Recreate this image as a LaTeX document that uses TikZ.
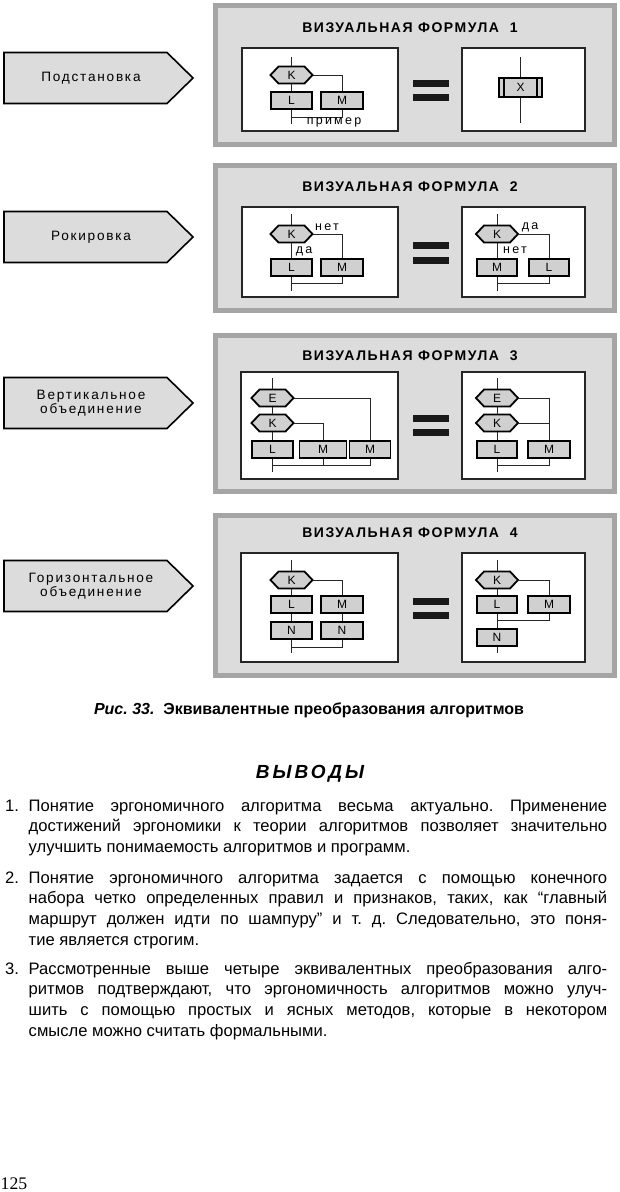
\documentclass[tikz,border=0pt]{standalone}
\usepackage{fontspec}
\setmainfont{Liberation Sans}
\newfontfamily\pgnumfont{Liberation Serif}
\newfontfamily\ttlfont{Liberation Sans}[LetterSpace=11]
\newfontfamily\lblfont{Liberation Sans}[LetterSpace=13]
\newfontfamily\tagfont{Liberation Sans}[LetterSpace=18]
\newfontfamily\headfont{Liberation Sans}[LetterSpace=16]
\definecolor{panelbg}{RGB}{220,220,220}
\definecolor{panelbd}{RGB}{165,165,165}
\definecolor{shapebg}{RGB}{208,208,208}
\definecolor{arrbg}{RGB}{220,220,220}
\tikzset{
  panel/.style={fill=panelbg, draw=panelbd, line width=5pt},
  wbox/.style={fill=white, draw=black!85, line width=1.1pt},
  eqbar/.style={fill=black!90, draw=none},
  hexbox/.style={fill=shapebg, draw=black, line width=1.8pt, line join=miter},
  hexlbl/.style={rectangle, draw=none, inner sep=0pt, minimum width=42pt, minimum height=17pt, font=\fontsize{12}{12}\selectfont},
  blk/.style={rectangle, fill=shapebg, draw=black, line width=1.8pt, inner sep=0pt, minimum height=17pt, font=\fontsize{12}{12}\selectfont},
  conn/.style={draw=black!85, line width=1pt},
  ttl/.style={inner sep=0pt, font=\ttlfont\bfseries\fontsize{14}{15}\selectfont},
  tag/.style={inner sep=0pt, font=\tagfont\fontsize{12.5}{13}\selectfont},
  abox/.style={fill=arrbg, draw=black, line width=1.6pt, line join=miter},
  albl/.style={inner sep=0pt, align=center, font=\lblfont\fontsize{13.6}{14}\selectfont},
  body/.style={inner sep=0pt, text width=578.5pt, align=justify, font=\fontsize{16.6}{20.9}\selectfont},
  num/.style={inner sep=0pt, font=\fontsize{16.6}{20.9}\selectfont},
}
\newcommand\hexa[4]{%
  \draw[hexbox] ([shift={(-21,0)}]#2,#3) -- ([shift={(-13,-8.5)}]#2,#3) -- ([shift={(13,-8.5)}]#2,#3) -- ([shift={(21,0)}]#2,#3) -- ([shift={(13,8.5)}]#2,#3) -- ([shift={(-13,8.5)}]#2,#3) -- cycle;
  \node[hexlbl] (#1) at (#2,#3) {#4};}
\newcommand\arrowbox[3]{%
  \draw[abox] (4,{#2-25.5}) -- (167,{#2-25.5}) -- (193,#2) -- (167,{#2+25.5}) -- (4,{#2+25.5}) -- cycle;
  \node[albl] (#1) at (91,#2) {#3};}
\begin{document}
\frenchspacing
\begin{tikzpicture}[x=1pt,y=-1pt]
\useasboundingbox (0,0) rectangle (620,1192);
\fill[white] (0,0) rectangle (620,1192);

% ---------- left arrow labels
\arrowbox{a1}{78}{Подстановка}
\arrowbox{a2}{237}{Рокировка}
\arrowbox{a3}{403}{Вертикальное\\объединение}
\arrowbox{a4}{586}{Горизонтальное\\объединение}

% ---------- panels
\draw[panel] (215.5,5) rectangle (614.5,144);
\draw[panel] (215.5,165) rectangle (614.5,310.5);
\draw[panel] (215.5,335) rectangle (614.5,491.5);
\draw[panel] (215.5,515.5) rectangle (614.5,675.5);

\node[ttl] (t1) at (410,28) {ВИЗУАЛЬНАЯ ФОРМУЛА\ \ 1};
\node[ttl] (t2) at (410,187) {ВИЗУАЛЬНАЯ ФОРМУЛА\ \ 2};
\node[ttl] (t3) at (410,356) {ВИЗУАЛЬНАЯ ФОРМУЛА\ \ 3};
\node[ttl] (t4) at (410,533) {ВИЗУАЛЬНАЯ ФОРМУЛА\ \ 4};

\draw[wbox] (242,48) rectangle (398,131);
\draw[wbox] (462,48) rectangle (585,131);
\draw[wbox] (242,207) rectangle (398,297);
\draw[wbox] (462,207) rectangle (585,297);
\draw[wbox] (241,372) rectangle (398,479);
\draw[wbox] (462,372) rectangle (585,479);
\draw[wbox] (241,553) rectangle (398,662);
\draw[wbox] (462,553) rectangle (585,662);

\fill[eqbar] (413,80) rectangle (449,87);
\fill[eqbar] (413,94) rectangle (449,101);
\fill[eqbar] (413,242) rectangle (449,249);
\fill[eqbar] (413,257) rectangle (449,264);
\fill[eqbar] (413,415) rectangle (449,422);
\fill[eqbar] (413,429) rectangle (449,436);
\fill[eqbar] (413,598) rectangle (449,605);
\fill[eqbar] (413,612) rectangle (449,619);

% ---------- formula 1
\coordinate (p1t) at (291.5,57);
\coordinate (p1j) at (291.5,117);
\coordinate (p1b) at (291.5,124);
\hexa{p1K}{291.5}{75}{K}
\node[blk, minimum width=41pt] (p1L) at (291.5,100.5) {L};
\node[blk, minimum width=42pt] (p1M) at (342,100.5) {M};
\draw[conn] (p1t) -- (p1K.north);
\draw[conn] (p1K.south) -- (p1L.north);
\draw[conn] (p1K.east) -| (p1M.north);
\draw[conn] (p1L.south) -- (p1b);
\draw[conn] (p1M.south) |- (p1j);
\node[tag, anchor=base] (p1ex) at (334,124) {пример};

\coordinate (p1rt) at (520.5,57);
\coordinate (p1rb) at (520.5,123);
\node[blk, minimum width=43pt, minimum height=19pt] (p1X) at (520.5,87.5) {X};
\draw[line width=1.6pt] ([xshift=6pt]p1X.north west) -- ([xshift=6pt]p1X.south west);
\draw[line width=1.6pt] ([xshift=-6pt]p1X.north east) -- ([xshift=-6pt]p1X.south east);
\draw[conn] (p1rt) -- (p1X.north);
\draw[conn] (p1X.south) -- (p1rb);

% ---------- formula 2
\coordinate (p2t) at (291.5,214);
\coordinate (p2j) at (291.5,283);
\coordinate (p2b) at (291.5,291);
\hexa{p2K}{291.5}{234}{K}
\node[blk, minimum width=41pt] (p2L) at (291.5,267.5) {L};
\node[blk, minimum width=42pt] (p2M) at (342,267.5) {M};
\draw[conn] (p2t) -- (p2K.north);
\draw[conn] (p2K.south) -- (p2L.north);
\draw[conn] (p2K.east) -| (p2M.north);
\draw[conn] (p2L.south) -- (p2b);
\draw[conn] (p2M.south) |- (p2j);
\node[tag, anchor=base] (p2no) at (327,230.5) {нет};
\node[tag, anchor=base] (p2yes) at (304,253) {да};

\coordinate (p2rt) at (497,214);
\coordinate (p2rj) at (497,283);
\coordinate (p2rb) at (497,291);
\hexa{p2rK}{497}{234}{K}
\node[blk, minimum width=40pt] (p2rM) at (497,267.5) {M};
\node[blk, minimum width=40pt] (p2rL) at (549,267.5) {L};
\draw[conn] (p2rt) -- (p2rK.north);
\draw[conn] (p2rK.south) -- (p2rM.north);
\draw[conn] (p2rK.east) -| (p2rL.north);
\draw[conn] (p2rM.south) -- (p2rb);
\draw[conn] (p2rL.south) |- (p2rj);
\node[tag, anchor=base] (p2ryes) at (530,229.5) {да};
\node[tag, anchor=base] (p2rno) at (515,253.5) {нет};

% ---------- formula 3
\coordinate (p3t) at (272.5,378);
\coordinate (p3j) at (272.5,465);
\coordinate (p3b) at (272.5,472);
\hexa{p3E}{272.5}{398}{E}
\hexa{p3K}{272.5}{423}{K}
\node[blk, minimum width=41pt] (p3L) at (272.5,449.5) {L};
\node[blk, minimum width=47pt] (p3M1) at (323,449.5) {M};
\node[blk, minimum width=41pt] (p3M2) at (370,449.5) {M};
\draw[conn] (p3t) -- (p3E.north);
\draw[conn] (p3E.south) -- (p3K.north);
\draw[conn] (p3K.south) -- (p3L.north);
\draw[conn] (p3L.south) -- (p3b);
\draw[conn] (p3E.east) -| (p3M2.north);
\draw[conn] (p3K.east) -| (p3M1.north);
\draw[conn] (p3M2.south) |- (p3j);
\draw[conn] (p3M1.south) -- (p3M1.south |- p3j);

\coordinate (p3rt) at (497,378);
\coordinate (p3rj) at (497,465);
\coordinate (p3rb) at (497,472);
\hexa{p3rE}{497}{398}{E}
\hexa{p3rK}{497}{423}{K}
\node[blk, minimum width=40pt] (p3rL) at (497,449.5) {L};
\node[blk, minimum width=42pt] (p3rM) at (549,449.5) {M};
\draw[conn] (p3rt) -- (p3rE.north);
\draw[conn] (p3rE.south) -- (p3rK.north);
\draw[conn] (p3rK.south) -- (p3rL.north);
\draw[conn] (p3rL.south) -- (p3rb);
\draw[conn] (p3rE.east) -| (p3rM.north);
\draw[conn] (p3rK.east) -- (p3rK.east -| p3rM.north);
\draw[conn] (p3rM.south) |- (p3rj);

% ---------- formula 4
\coordinate (p4t) at (291.5,560);
\coordinate (p4j) at (291.5,647);
\coordinate (p4b) at (291.5,653);
\hexa{p4K}{291.5}{580}{K}
\node[blk, minimum width=41pt] (p4L) at (291.5,604.5) {L};
\node[blk, minimum width=42pt] (p4M) at (342,604.5) {M};
\node[blk, minimum width=41pt] (p4N1) at (291.5,630.5) {N};
\node[blk, minimum width=42pt] (p4N2) at (342,630.5) {N};
\draw[conn] (p4t) -- (p4K.north);
\draw[conn] (p4K.south) -- (p4L.north);
\draw[conn] (p4K.east) -| (p4M.north);
\draw[conn] (p4L.south) -- (p4N1.north);
\draw[conn] (p4M.south) -- (p4N2.north);
\draw[conn] (p4N1.south) -- (p4b);
\draw[conn] (p4N2.south) |- (p4j);

\coordinate (p4rt) at (497,560);
\coordinate (p4rj) at (497,620);
\coordinate (p4rb) at (497,653);
\hexa{p4rK}{497}{580}{K}
\node[blk, minimum width=40pt] (p4rL) at (497,604.5) {L};
\node[blk, minimum width=42pt] (p4rM) at (549,604.5) {M};
\node[blk, minimum width=40pt] (p4rN) at (497,637.5) {N};
\draw[conn] (p4rt) -- (p4rK.north);
\draw[conn] (p4rK.south) -- (p4rL.north);
\draw[conn] (p4rK.east) -| (p4rM.north);
\draw[conn] (p4rL.south) -- (p4rN.north);
\draw[conn] (p4rM.south) |- (p4rj);
\draw[conn] (p4rN.south) -- (p4rb);

% ---------- caption and text
\node[inner sep=0pt, anchor=base, font=\fontsize{16}{18}\selectfont] (cap) at (309,714)
  {\bfseries\itshape Рис. 33.\ \ \upshape Эквивалентные преобразования алгоритмов};
\node[inner sep=0pt, anchor=base, font=\headfont\bfseries\itshape\fontsize{19}{20}\selectfont] (head) at (310,778) {ВЫВОДЫ};

\node[num, anchor=base west] (n1) at (5,811) {1.};
\node[body, anchor=base west] (b1) at (28.5,811) {\tolerance=10000\hyphenpenalty=10000
Понятие эргономичного алгоритма весьма актуально. Применение\linebreak
достижений эргономики к теории алгоритмов позволяет значительно\linebreak
улучшить понимаемость алгоритмов и программ.};

\node[num, anchor=base west] (n2) at (5,883) {2.};
\node[body, anchor=base west] (b2) at (28.5,883) {\tolerance=10000\hyphenpenalty=10000
Понятие эргономичного алгоритма задается с помощью конечного\linebreak
набора четко определенных правил и признаков, таких, как “главный\linebreak
маршрут должен идти по шампуру” и т.~д. Следовательно, это поня-\linebreak
тие является строгим.};

\node[num, anchor=base west] (n3) at (5,974) {3.};
\node[body, anchor=base west] (b3) at (28.5,974) {\tolerance=10000\hyphenpenalty=10000
Рассмотренные выше четыре эквивалентных преобразования алго-\linebreak
ритмов подтверждают, что эргономичность алгоритмов можно улуч-\linebreak
шить с помощью простых и ясных методов, которые в некотором\linebreak
смысле можно считать формальными.};

\node[inner sep=0pt, anchor=base west, font=\pgnumfont\fontsize{17.7}{18}\selectfont] (pg) at (0.5,1189) {125};
\end{tikzpicture}
\end{document}
